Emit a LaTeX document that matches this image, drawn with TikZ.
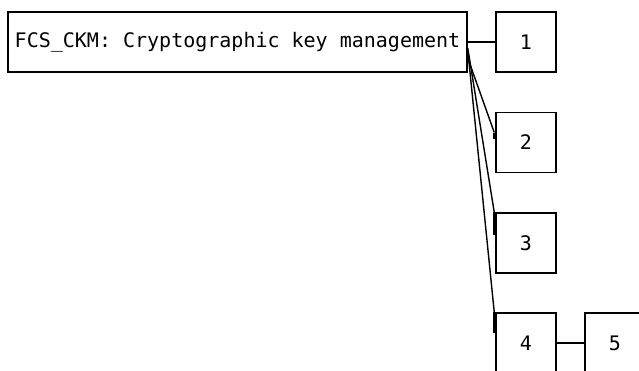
\documentclass[tikz,border=0pt]{standalone}
\usepackage{fontspec}
\setmonofont{DejaVu Sans Mono}
\usepackage{tikz}
\tikzset{
  box/.style={
    draw=black,
    fill=white,
    line width=1.5pt,
    inner sep=0pt,
    minimum height=60pt,
    font=\ttfamily\fontsize{20}{24}\selectfont,
  },
  numbox/.style={
    box,
    minimum width=60pt,
  },
  link/.style={
    draw=black,
    line width=1.4pt,
  },
  stub/.style={
    draw=black,
    line width=2.8pt,
  }
}

\begin{document}
\begin{tikzpicture}[x=1pt, y=-1pt]
  \useasboundingbox (0, 0) rectangle (639, 370);

  \node[box, minimum width=459pt] (ckm) at (237.5, 42)
    {FCS\_CKM: Cryptographic key management};

  \foreach \n/\y in {1/42, 2/142.5, 3/243, 4/343}
    \node[numbox] (b\n) at (526, \y) {\n};
  \node[numbox] (b5) at (615, 343) {5};

  % straight links
  \draw[link] (ckm.east) -- (b1.west);
  \draw[link] (b4.east) -- (b5.west);

  % links running down the right side
  \draw[link] ([yshift=-16pt]ckm.east) -- ([xshift=-1pt, yshift=10pt]b2.west);
  \draw[stub] ([xshift=-1pt, yshift=10pt]b2.west) -- ([xshift=-1pt, yshift=4pt]b2.west);
  \draw[link] ([yshift=-6pt]ckm.east) -- ([xshift=-1pt]b3.north west);
  \draw[stub] ([xshift=-1pt]b3.north west) -- ([xshift=-1pt, yshift=8pt]b3.west);
  \draw[link] ([yshift=-8pt]ckm.east) -- ([xshift=-1pt]b4.north west);
  \draw[stub] ([xshift=-1pt]b4.north west) -- ([xshift=-1pt, yshift=10pt]b4.west);

\end{tikzpicture}
\end{document}
